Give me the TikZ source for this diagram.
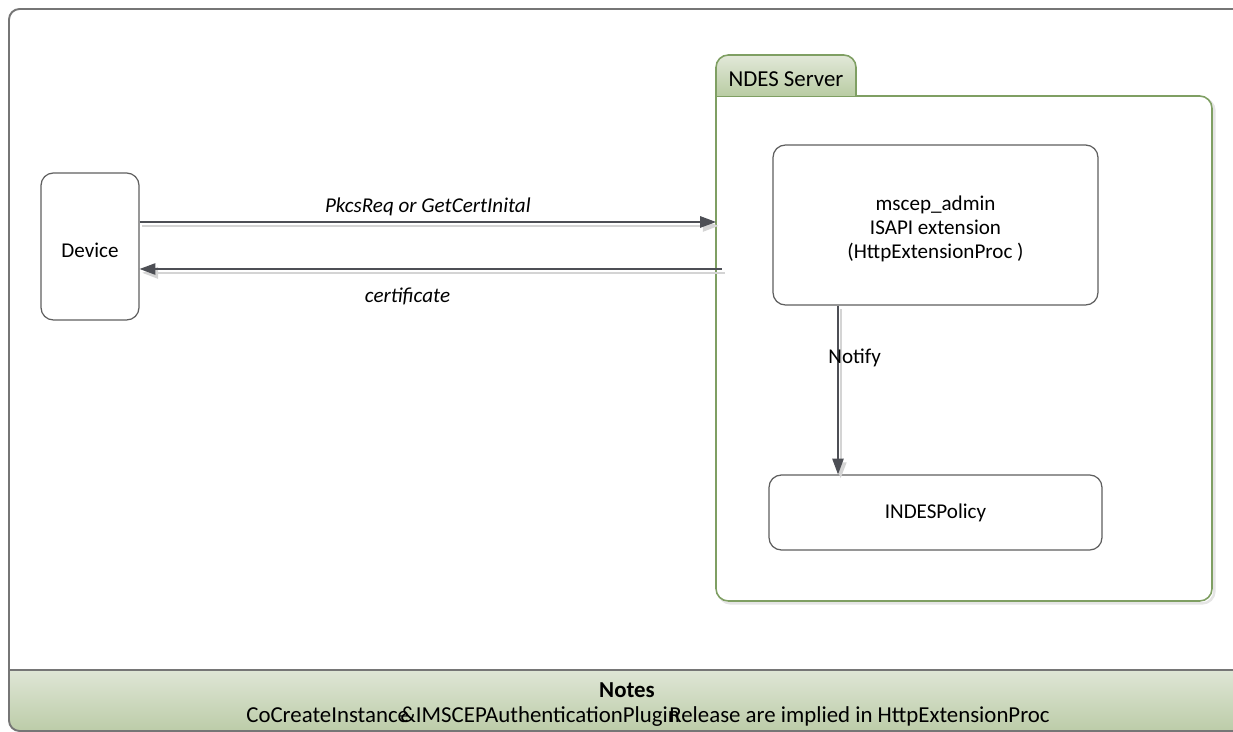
\documentclass[tikz,border=0pt]{standalone}
\usepackage{fontspec}
\setmainfont{Carlito}
\usetikzlibrary{arrows.meta,positioning}

\definecolor{boxgray}{HTML}{5F5F5F}
\definecolor{framegray}{HTML}{767676}
\definecolor{arrowgray}{HTML}{4D4F55}
\definecolor{shadowgray}{HTML}{D4D4D4}
\definecolor{srvgreen}{HTML}{7F9F63}
\definecolor{tabtop}{HTML}{E2E8D9}
\definecolor{tabbot}{HTML}{B9CCA3}
\definecolor{notetop}{HTML}{DFE6D6}
\definecolor{notebot}{HTML}{BCCCA8}

\newcommand{\lbl}{\fontsize{12}{13.6}\selectfont}
\newcommand{\notefont}{\fontsize{13}{15}\selectfont}
% text lowered a little inside its box
\newcommand{\lowered}[2]{\raisebox{-#1}[\height][\depth]{#2}}

\tikzset{
  blockbox/.style={draw=boxgray, line width=0.7pt, rounded corners=7pt,
    align=center, inner sep=0pt, font=\lbl},
  msgarrow/.style={draw=arrowgray, line width=0.75pt,
    -{Triangle[length=9pt,width=6.5pt]},
    preaction={draw=shadowgray, line width=1.2pt,
      transform canvas={shift={(1.5pt,-2.2pt)}}}},
  msglabel/.style={font=\lbl\itshape},
  framestyle/.style={draw=framegray, line width=1.1pt},
  srvline/.style={draw=srvgreen, line width=0.9pt},
  notetext/.style={font=\notefont, inner sep=0pt},
}

\begin{document}
\begin{tikzpicture}[x=0.02cm, y=-0.02cm]
  \clip (0,0) rectangle (1233,732);

  % outer frame and notes bar
  \begin{scope}
    \clip[rounded corners=6pt] (9,9) rectangle (1300,731);
    \shade[top color=notetop, bottom color=notebot] (9,670) rectangle (1300,731);
  \end{scope}
  \draw[framestyle] (9,670) -- (1300,670);
  \draw[framestyle, rounded corners=6pt] (1300,9) -- (9,9) -- (9,731) -- (1300,731);

  \node[notetext, font=\notefont\bfseries, anchor=base] (notestitle) at (627,697) {Notes};
  \node[notetext, anchor=base west] (notesa) at (246,722) {CoCreateInstance};
  \node[notetext, anchor=base west] (notesb) at (400,722) {\&IMSCEPAuthenticationPlugin};
  \node[notetext, anchor=base east] (notesc) at (1050,722) {Release are implied in HttpExtensionProc};

  % NDES server container
  \draw[srvline, fill=white, rounded corners=7pt,
    preaction={draw=black!10, line width=1.4pt, transform canvas={shift={(1.4pt,-1.4pt)}}}]
    (716,96) -- (1212,96) -- (1212,601) -- (716,601) -- (716,96);
  \path[srvline, top color=tabtop, bottom color=tabbot, rounded corners=7pt]
    (716,96) -- (716,55) -- (856,55) -- (856,96);
  \node[font=\fontsize{13}{15}\selectfont] (tab) at (786,79) {NDES Server};
  \coordinate (srvW) at (716,348);

  % blocks
  \node[blockbox, minimum width=1.96cm, minimum height=2.94cm] (dev) at (90,246.5)
    {\lowered{2.3pt}{Device}};
  \node[blockbox, minimum width=6.5cm, minimum height=3.2cm] (adm) at (935.5,225)
    {\lowered{2.8pt}{\begin{tabular}{@{}c@{}}mscep\_admin\\ISAPI extension\\(HttpExtensionProc )\end{tabular}}};
  \node[blockbox, minimum width=6.66cm, minimum height=1.5cm] (pol) at (935.5,512.5) {INDESPolicy};

  % messages
  \coordinate (reqy) at (0,222);
  \coordinate (certy) at (0,269);
  \coordinate (nx) at (838,0);
  \draw[msgarrow] (dev.east |- reqy) -- (srvW |- reqy)
    node[msglabel, midway, above] {PkcsReq or GetCertInital};
  \draw[msgarrow] ([xshift=3.4pt]srvW |- certy) -- (dev.east |- certy)
    node[msglabel, pos=0.54, below=7pt] {certificate};
  \draw[msgarrow] (adm.south -| nx) -- (pol.north -| nx)
    node[font=\lbl, pos=0.31, xshift=9.5pt] {Notify};
\end{tikzpicture}
\end{document}
